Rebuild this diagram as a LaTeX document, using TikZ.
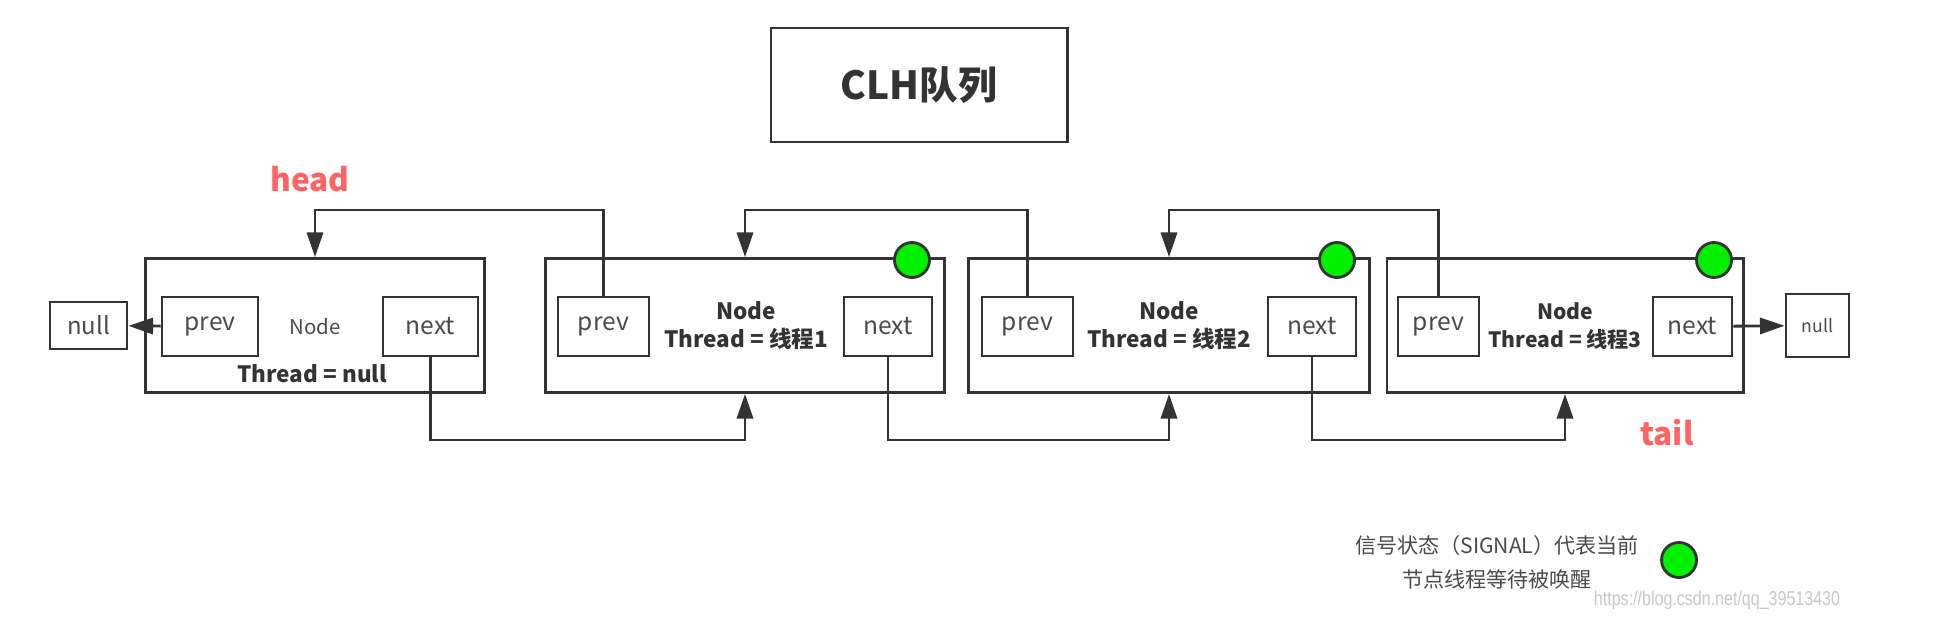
\documentclass[tikz,border=0pt]{standalone}
\usepackage{fontspec}
\setmainfont{Noto Sans CJK SC}
\newfontfamily\markfont{Liberation Sans}
\usetikzlibrary{arrows.meta,positioning}
\definecolor{linegray}{HTML}{333333}
\definecolor{textgray}{HTML}{4A4A4A}
\definecolor{headred}{HTML}{FF6363}
\definecolor{signalgreen}{HTML}{00F000}

\begin{document}
\begin{tikzpicture}[x=0.01cm,y=-0.01cm,
  line width=0.8pt,
  qnode/.style={draw=linegray,minimum height=1.34cm,inner sep=0pt},
  field/.style={draw=linegray,minimum height=0.59cm,inner sep=0pt,text=textgray,font=\fontsize{7}{8}\selectfont},
  nullbox/.style={draw=linegray,inner sep=0pt,text=textgray},
  label/.style={align=center,text=linegray,font=\bfseries\fontsize{6.4}{8}\selectfont},
  signal/.style={circle,draw=linegray,fill=signalgreen,minimum size=0.35cm,inner sep=0pt},
  marker/.style={text=headred,font=\bfseries\fontsize{9}{10}\selectfont},
  link/.style={draw=linegray,-{Triangle[length=7pt,width=4.6pt]}}]
\useasboundingbox (0,0) rectangle (1946,618);

\node[draw=linegray,minimum width=2.96cm,minimum height=1.14cm,font=\bfseries\fontsize{11}{12}\selectfont,text=linegray] (title) at (919,85) {CLH队列};

% queue nodes
\node[qnode,minimum width=3.38cm] (node0) at (315,325.5) {};
\node[qnode,minimum width=3.98cm] (node1) at (745,325.5) {};
\node[qnode,minimum width=4.00cm] (node2) at (1169,325.5) {};
\node[qnode,minimum width=3.56cm] (node3) at (1565,325.5) {};

\node[field,minimum width=0.96cm] (prev0) at (210,326.5) {prev};
\node[field,minimum width=0.95cm] (next0) at (430.5,326.5) {next};
\node[field,minimum width=0.91cm] (prev1) at (603.5,326.5) {prev};
\node[field,minimum width=0.88cm] (next1) at (888,326.5) {next};
\node[field,minimum width=0.91cm] (prev2) at (1027.5,326.5) {prev};
\node[field,minimum width=0.88cm] (next2) at (1312,326.5) {next};
\node[field,minimum width=0.81cm] (prev3) at (1438.5,326.5) {prev};
\node[field,minimum width=0.79cm] (next3) at (1692.5,326.5) {next};

\node[text=textgray,font=\fontsize{5.8}{7}\selectfont] (name0) at (315,327) {Node};
\node[label] (thread0) at (312,374) {Thread = null};
\node[label] (thread1) at (746,326) {Node\\Thread = 线程1};
\node[label] (thread2) at (1169,326) {Node\\Thread = 线程2};
\node[label,font=\bfseries\fontsize{6}{8}\selectfont] (thread3) at (1565,326) {Node\\Thread = 线程3};

\node[nullbox,minimum width=0.77cm,minimum height=0.47cm,font=\fontsize{6.8}{8}\selectfont] (nullL) at (88.5,325.5) {null};
\node[nullbox,minimum width=0.63cm,minimum height=0.63cm,font=\fontsize{5}{6}\selectfont] (nullR) at (1817.5,325.5) {null};

\node[signal] (sig1) at (912,260) {};
\node[signal] (sig2) at (1337,260) {};
\node[signal] (sig3) at (1714,260) {};

\node[marker] (head) at (310,179) {head};
\node[marker] (tail) at (1667,433) {tail};

% prev / next links
\coordinate (top) at (0,210);
\coordinate (bot) at (0,440);
\draw[link] (prev0) -- (nullL);
\draw[link] (next3) -- (nullR);
\draw[link] (prev1.north) |- (node0.north |- top) -- (node0.north);
\draw[link] (prev2.north) |- (node1.north |- top) -- (node1.north);
\draw[link] (prev3.north) |- (node2.north |- top) -- (node2.north);
\draw[link] (next0.south) |- (node1.south |- bot) -- (node1.south);
\draw[link] (next1.south) |- (node2.south |- bot) -- (node2.south);
\draw[link] (next2.south) |- (node3.south |- bot) -- (node3.south);

% legend
\node[align=center,text=textgray,font=\fontsize{6}{9.7}\selectfont] (legend) at (1497,562) {信号状态（SIGNAL）代表当前\\节点线程等待被唤醒};
\node[signal] (sigkey) at (1679,560) {};
\node[text=black!22,xscale=0.8,font=\markfont\fontsize{5.7}{6}\selectfont] (mark) at (1717,600) {https://blog.csdn.net/qq\_39513430};
\end{tikzpicture}
\end{document}
